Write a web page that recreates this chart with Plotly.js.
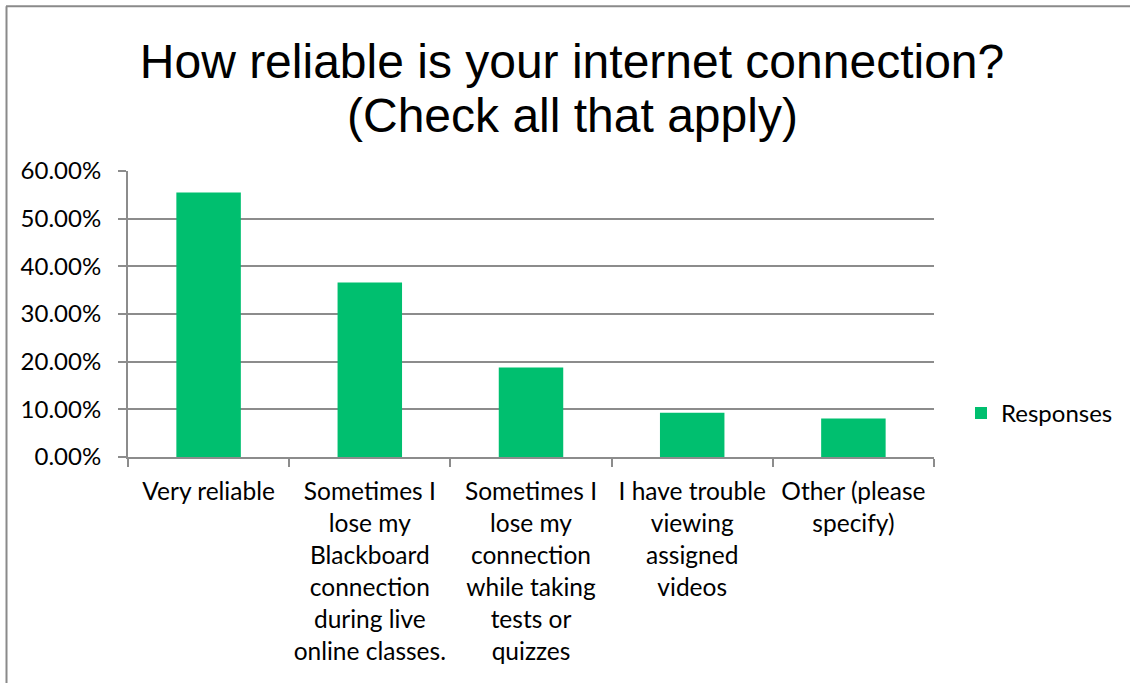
<!DOCTYPE html>
<html>
<head>
<meta charset="utf-8">
<script src="https://cdn.plot.ly/plotly-3.0.1.min.js"></script>
<style>html,body{margin:0;padding:0;background:#fff;}#chart{width:1130px;height:683px;}</style>
</head>
<body>
<div id="chart"></div>
<script>
const categories = [
  "Very reliable",
  "Sometimes I<br>lose my<br>Blackboard<br>connection<br>during live<br>online classes.",
  "Sometimes I<br>lose my<br>connection<br>while taking<br>tests or<br>quizzes",
  "I have trouble<br>viewing<br>assigned<br>videos",
  "Other (please<br>specify)"
];
const responses = [0.555, 0.366, 0.188, 0.093, 0.081];
const seriesName = "Responses";
const yTicks = [0, 0.1, 0.2, 0.3, 0.4, 0.5, 0.6];
const titleLine1 = "How reliable is your internet connection?";
const titleLine2 = "(Check all that apply)";

const W = 1130, H = 683;
const L = 128, R = 934, T = 170.7, B = 456.7;
const px = x => (x - L) / (R - L);
const py = y => (B - y) / (B - T);
const grid = '#8c8c8c';
const fam = 'Lato, "Open Sans", sans-serif';
const labelFont = {family: fam, size: 24, color: '#000'};
const xLabelFont = {family: fam, size: 24.5, color: '#000'};

const trace = {
  type: 'bar',
  x: categories,
  y: responses,
  name: seriesName,
  marker: {color: '#00BF6F', line: {width: 0}},
  width: 0.4,
  showlegend: true,
  hoverinfo: 'x+y'
};

const layout = {
  width: W, height: H,
  margin: {l: L, r: W - R, t: T, b: H - B, pad: 0},
  paper_bgcolor: '#fff', plot_bgcolor: '#fff',
  font: labelFont,
  title: {
    text: titleLine1,
    font: {family: '"Liberation Sans", Arial, sans-serif', size: 48, color: '#000'},
    x: 572 / W, xanchor: 'center', xref: 'container',
    y: 1 - 78 / H, yanchor: 'bottom', yref: 'container'
  },
  annotations: [{
    text: titleLine2, showarrow: false,
    font: {family: '"Liberation Sans", Arial, sans-serif', size: 48, color: '#000'},
    xref: 'paper', yref: 'paper', x: px(572), y: py(144), xanchor: 'center', yanchor: 'bottom'
  }],
  xaxis: {
    type: 'category',
    tickson: 'boundaries',
    tickangle: 0,
    ticks: 'outside', ticklen: 8, tickcolor: grid, tickwidth: 2,
    showline: true, linecolor: grid, linewidth: 2,
    showgrid: false,
    tickfont: xLabelFont,
    ticklabelstandoff: 12,
    fixedrange: true
  },
  yaxis: {
    range: [0, 0.6],
    tickvals: yTicks,
    tickformat: '.2%',
    ticks: 'outside', ticklen: 8, tickcolor: grid, tickwidth: 2,
    showline: true, linecolor: grid, linewidth: 2,
    showgrid: true, gridcolor: grid, gridwidth: 2,
    zeroline: false,
    tickfont: labelFont,
    ticklabelstandoff: 12,
    fixedrange: true
  },
  legend: {
    x: px(961), y: py(413), xanchor: 'left', yanchor: 'middle',
    font: labelFont, bgcolor: 'rgba(0,0,0,0)', borderwidth: 0
  },
  showlegend: true,
  bargap: 0.6,
  shapes: [
    {type: 'line', xref: 'paper', yref: 'paper', x0: px(6), x1: px(1130), y0: py(6), y1: py(6), line: {color: '#8a8a8a', width: 2}},
    {type: 'line', xref: 'paper', yref: 'paper', x0: px(6.5), x1: px(6.5), y0: py(6), y1: py(683), line: {color: '#8a8a8a', width: 2}}
  ]
};

Plotly.newPlot('chart', [trace], layout, {displayModeBar: false, staticPlot: true});
</script>
</body>
</html>
